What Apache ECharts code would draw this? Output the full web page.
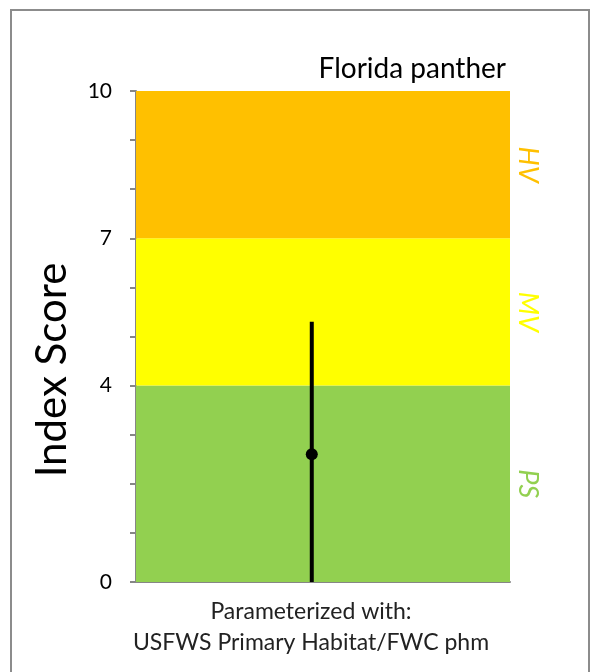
<!DOCTYPE html>
<html>
<head>
<meta charset="utf-8">
<script src="https://cdn.jsdelivr.net/npm/echarts@6/dist/echarts.min.js"></script>
<style>html,body{margin:0;padding:0;background:#fff;}#chart{width:600px;height:672px;}</style>
</head>
<body>
<div id="chart"></div>
<script>
// ---- data ----
const chartTitle = 'Florida panther';
const yAxisName = 'Index Score';
const bandNames = ['PS', 'MV', 'HV'];
const bandLow = [0, 4, 7];
const bandHigh = [4, 7, 10];
const yTickLabels = [0, 4, 7, 10];
const meanScore = [2.6];
const lowScore = [0];
const highScore = [5.3];
const footerLines = ['Parameterized with:', 'USFWS Primary Habitat/FWC phm'];

// ---- styles ----
const bandColors = ['#92D050', '#FFFF00', '#FFC000'];
const FONT = 'Lato, "Open Sans", sans-serif';
const xPos = 0.47;

const chart = echarts.init(document.getElementById('chart'));

const markAreaData = bandNames.map((n, i) => [
  { yAxis: bandLow[i], name: n, itemStyle: { color: bandColors[i] },
    label: { color: bandColors[i] } },
  { yAxis: bandHigh[i] }
]);

chart.setOption({
  animation: false,
  title: {
    text: chartTitle,
    right: 89,
    top: 50,
    textStyle: { fontFamily: FONT, fontSize: 28, fontWeight: 'normal', color: '#000' }
  },
  grid: { left: 136, right: 90, top: 91, bottom: 90 },
  xAxis: {
    type: 'value', min: 0, max: 1,
    axisLine: { show: true, lineStyle: { color: '#868686', width: 2 } },
    axisTick: { show: false }, axisLabel: { show: false }, splitLine: { show: false }
  },
  yAxis: {
    type: 'value', min: 0, max: 10, interval: 1,
    offset: 5,
    axisLine: { show: true, lineStyle: { color: '#868686', width: 2 } },
    axisTick: { show: true, length: 6, lineStyle: { color: '#868686', width: 2 } },
    axisLabel: {
      margin: 19, fontFamily: FONT, fontSize: 21, color: '#000',
      formatter: v => (yTickLabels.indexOf(v) >= 0 ? String(v) : '')
    },
    splitLine: { show: false }
  },
  series: [
    {
      type: 'custom',
      data: meanScore.map((m, i) => [xPos, m, lowScore[i], highScore[i]]),
      renderItem: function (params, api) {
        const x = api.coord([api.value(0), api.value(1)])[0];
        const yMean = api.coord([0, api.value(1)])[1];
        const yLow = api.coord([0, api.value(2)])[1];
        const yHigh = api.coord([0, api.value(3)])[1];
        return {
          type: 'group',
          children: [
            { type: 'line', shape: { x1: x, y1: yLow, x2: x, y2: yHigh },
              style: { stroke: '#000', lineWidth: 4 } },
            { type: 'circle', shape: { cx: x, cy: yMean, r: 6 },
              style: { fill: '#000' } }
          ]
        };
      },
      markArea: {
        silent: true,
        label: {
          show: true, position: 'right', distance: 18,
          rotate: -90, align: 'center', verticalAlign: 'middle',
          fontFamily: FONT, fontSize: 27, fontStyle: 'italic'
        },
        data: markAreaData
      },
      z: 5
    }
  ],
  graphic: [
    { type: 'rect', shape: { x: 11, y: 10, width: 578, height: 700 },
      style: { fill: null, stroke: '#8c8c8c', lineWidth: 2 }, silent: true },
    { type: 'text', x: 52, y: 370, rotation: Math.PI / 2,
      style: { text: yAxisName, font: '42px ' + FONT, fill: '#000', textAlign: 'center', textVerticalAlign: 'middle' } },
    { type: 'text', x: 311, y: 612,
      style: { text: footerLines[0], font: '23px ' + FONT, fill: '#222', textAlign: 'center', textVerticalAlign: 'middle' } },
    { type: 'text', x: 311, y: 643,
      style: { text: footerLines[1], font: '23px ' + FONT, fill: '#222', textAlign: 'center', textVerticalAlign: 'middle' } }
  ]
});
</script>
</body>
</html>
